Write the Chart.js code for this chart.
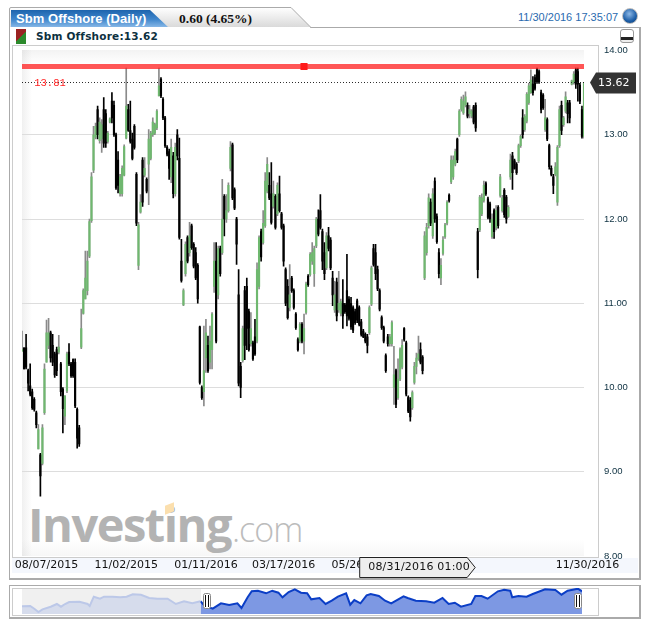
<!DOCTYPE html>
<html>
<head>
<meta charset="utf-8">
<title>Sbm Offshore (Daily)</title>
<script src="https://cdn.jsdelivr.net/npm/chart.js@4"></script>
<style>
html, body { margin: 0; padding: 0; background: #fff; overflow: hidden; }
#page { position: relative; width: 650px; height: 627px; overflow: hidden; }
#page > * { position: absolute; }
#panel { left: 9px; top: 27px; width: 629px; height: 550px; border: 1px solid #aaa; border-width: 1px 2px 2px 1px; background: #fff; }
#tabShape { left: 0; top: 0; }
#tabTitle { left: 16px; top: 10px; color: #fff; font: bold 13px "Liberation Sans"; line-height: 17px; letter-spacing: 0.05px; }
#tabChange { left: 179px; top: 10px; color: #111; font: bold 13.5px "Liberation Serif"; line-height: 17px; }
#stamp { left: 518px; top: 10px; color: #2a6aaf; font: 11px "Liberation Sans"; line-height: 14px; }
#globe { left: 622px; top: 8px; width: 14px; height: 14px; border-radius: 50%; border: 1px solid #bbb; background: radial-gradient(circle at 45% 35%, #8db8e6, #1c5da6 60%, #0f3f78); }
#swatch { left: 16px; top: 29px; width: 10px; height: 15px; background: linear-gradient(135deg, #9a2222 50%, #2c8a2c 50%); }
#legend { left: 36px; top: 29px; color: #0d3040; font: bold 10.5px "DejaVu Sans"; line-height: 15px; letter-spacing: 0.2px; }
#collapse { left: 620px; top: 29px; width: 12px; height: 12px; border: 1px solid #999; border-radius: 3px; background: linear-gradient(#fff 60%, #222 60%, #222 80%, #eee 80%); }
#frame { left: 12px; top: 45px; width: 585px; height: 511px; border: 1px solid #ccc; background: #fff; }
#plotShade { left: 22px; top: 50px; width: 562px; height: 506px;
  background: linear-gradient(to bottom, #f3f3f3, #fff 14px, #fff 490px, #f7f7f7),
              linear-gradient(to right, #f0f0f0, #fff 10px); background-blend-mode: multiply; }
#strip { left: 12px; top: 558px; width: 626px; height: 15px; background: #f4f7fd; }
#logoWord { left: 28px; top: 492px; color: #b3b3b3; font: 700 47px "Open Sans"; letter-spacing: -1.5px; line-height: 64px; }
#logoCom { left: 232px; top: 505px; color: #bcbcbc; font: 300 34px "Open Sans"; letter-spacing: -1px; line-height: 48px; }
#logoDot { left: 165px; top: 504px; width: 9px; height: 9px; background: #fbdfae; transform: skewY(-20deg); }
#navPanel { left: 9px; top: 585px; width: 629px; height: 31px; border: 1px solid #aaa; border-width: 1px 2px 2px 1px; background: #fff; }
#navFrame { left: 12px; top: 588px; width: 585px; height: 26px; border: 1px solid #ccc; background: #fff; }
#navShade { left: 22px; top: 589px; width: 179px; height: 25px; background: #f0f0f0; }
canvas { left: 0; }
</style>
</head>
<body>
<div id="page">
  <div id="panel"></div>
  <svg id="tabShape" width="650" height="30">
    <defs>
      <linearGradient id="tabGrey" x1="0" y1="0" x2="0" y2="1"><stop offset="0" stop-color="#fff"/><stop offset="1" stop-color="#d8d8d8"/></linearGradient>
      <linearGradient id="tabBlue" x1="0" y1="0" x2="0" y2="1"><stop offset="0" stop-color="#1d64ad"/><stop offset="0.55" stop-color="#3f86cc"/><stop offset="1" stop-color="#86b7e6"/></linearGradient>
    </defs>
    <path d="M9.5 28 V9 Q9.5 7.5 11 7.5 H291 L311 27.5" fill="url(#tabGrey)" stroke="#aaa"/>
    <path d="M11 27 V10 H150 L168 27 Z" fill="url(#tabBlue)"/>
    <rect x="10" y="27" width="300" height="2" fill="#fff"/>
  </svg>
  <div id="tabTitle">Sbm Offshore (Daily)</div>
  <div id="tabChange">0.60 (4.65%)</div>
  <div id="stamp">11/30/2016 17:35:07</div>
  <div id="globe"></div>
  <div id="swatch"></div>
  <div id="legend">Sbm Offshore:13.62</div>
  <div id="collapse"></div>
  <div id="frame"></div>
  <div id="plotShade"></div>
  <div id="strip"></div>
  <div id="logoWord">Investing</div>
  <div id="logoCom">.com</div>
  <div id="logoDot"></div>
  <div id="navPanel"></div>
  <div id="navFrame"></div>
  <div id="navShade"></div>
  <canvas id="grafico" width="650" height="627" style="top:0"></canvas>
  <canvas id="navegador" width="650" height="32" style="top:585px"></canvas>
</div>
<script>
// daily prices
const sessionHigh = [
  10.67,10.47,10.63,10.22,10.28,9.98,9.88,9.72,9.56,9.22,
  9.56,10.28,10.8,10.82,10.67,10.63,10.42,10.48,10.62,10.3,
  10.0,9.9,10.42,10.52,10.3,10.34,10.34,9.76,9.55,10.93,
  11.17,11.62,11.62,12.0,12.55,13.1,13.14,13.34,13.2,13.18,
  13.44,13.3,13.04,13.2,13.5,13.4,13.02,12.8,12.53,12.63,
  12.88,13.79,13.36,13.4,13.02,13.12,12.55,11.96,12.29,12.73,
  12.73,12.49,13.06,13.04,13.2,13.14,13.3,13.79,13.68,13.44,
  13.22,12.87,12.83,12.95,12.79,12.9,13.06,12.96,11.76,11.17,
  11.73,11.8,11.96,11.94,11.72,11.66,11.47,10.73,10.02,10.73,
  10.81,10.61,10.73,10.89,11.72,11.72,11.68,11.68,12.47,12.29,
  12.29,12.43,12.92,12.9,12.37,12.02,11.4,10.3,10.73,11.2,
  11.3,10.93,10.89,10.55,10.81,11.48,11.8,11.88,12.1,12.55,
  12.73,12.55,12.67,12.45,12.29,12.43,12.51,12.08,11.94,11.42,
  11.28,11.46,11.32,11.17,10.89,10.59,10.77,10.77,10.87,11.25,
  11.34,11.6,11.72,11.68,12.02,12.11,12.29,11.88,11.72,11.84,
  11.9,11.78,11.38,11.26,11.3,11.38,11.05,11.28,11.0,11.58,
  11.08,11.07,10.97,10.93,11.05,10.97,10.81,10.69,10.65,10.63,
  10.97,11.44,11.7,11.7,11.44,11.17,10.85,10.73,10.4,10.63,
  10.63,10.79,10.49,10.22,10.34,10.47,10.57,10.71,10.55,9.9,
  9.88,9.96,10.3,10.41,10.61,10.53,10.38,11.85,11.95,12.3,
  12.24,12.36,12.49,12.06,11.65,11.53,11.79,11.95,12.22,12.3,
  12.75,12.75,12.83,12.96,13.3,13.45,13.47,13.51,13.38,13.35,
  13.3,13.35,13.38,11.89,12.28,12.3,12.45,12.44,12.26,12.2,
  12.06,12.12,12.16,12.16,12.53,12.28,12.36,12.28,12.16,12.77,
  12.79,12.71,12.67,12.89,13.0,13.3,13.24,13.5,13.61,13.77,
  13.69,13.71,13.79,13.77,13.53,13.49,13.42,13.2,12.89,12.63,
  12.53,12.67,12.87,13.34,13.4,13.22,13.51,13.41,13.41,13.65,
  13.75,13.79,13.79,13.61,13.34,13.61
];
const sessionLow = [
  10.43,10.22,10.22,9.96,9.9,9.74,9.72,9.52,9.27,8.71,
  9.08,9.68,10.3,10.46,10.3,10.26,10.12,10.14,10.4,9.9,
  9.46,9.56,9.94,10.26,10.12,10.12,9.76,9.28,9.3,10.46,
  10.87,11.05,11.1,11.54,11.96,12.55,12.95,12.95,12.9,12.79,
  12.85,12.85,12.9,13.14,13.14,12.98,12.35,12.31,12.27,12.27,
  12.51,12.95,13.04,12.9,12.7,12.83,11.92,11.4,12.07,12.15,
  12.5,12.31,12.17,12.7,12.98,13.0,13.06,13.46,13.44,13.18,
  12.85,12.75,12.47,12.43,12.25,12.27,12.7,11.76,11.25,10.97,
  11.32,11.48,11.56,11.64,11.42,11.28,11.0,10.04,9.86,9.78,
  10.18,10.18,10.22,10.22,11.13,10.53,11.05,11.32,11.58,11.8,
  11.96,12.08,12.57,12.23,12.11,11.46,10.02,9.88,10.3,10.33,
  10.45,10.43,10.49,10.32,10.38,10.53,11.17,11.5,11.7,11.9,
  12.31,12.23,11.94,12.13,11.88,12.04,12.08,11.88,11.44,10.97,
  10.81,10.91,11.13,10.93,10.69,10.43,10.53,10.53,10.4,10.87,
  11.2,11.32,11.46,11.2,11.66,11.8,11.88,11.4,11.28,11.4,
  11.62,11.4,10.97,10.89,10.79,10.89,10.85,10.7,10.88,10.73,
  10.8,10.69,10.65,10.75,10.77,10.73,10.61,10.59,10.53,10.41,
  10.63,10.97,11.44,11.28,11.15,10.91,10.69,10.53,10.18,10.49,
  10.49,10.49,9.8,9.76,9.86,10.08,10.22,10.55,9.9,9.7,
  9.6,9.74,10.04,10.16,10.32,10.28,10.16,11.28,11.57,11.89,
  11.92,11.77,11.96,11.71,11.3,11.22,11.57,11.77,11.93,12.2,
  12.42,12.47,12.63,12.67,12.98,13.28,13.24,13.33,13.2,13.2,
  13.2,13.13,13.04,11.3,11.85,12.04,12.2,12.28,12.0,11.96,
  11.77,11.77,11.87,11.89,12.26,12.08,12.02,11.95,12.02,12.47,
  12.35,12.59,12.53,12.67,12.85,12.96,13.04,13.14,13.36,13.49,
  13.47,13.53,13.61,13.61,13.26,13.3,13.04,12.93,12.59,12.51,
  12.3,12.51,12.16,12.85,13.0,13.1,13.26,13.14,13.14,13.59,
  13.6,13.55,13.4,13.37,12.96,12.96
];
const sessionOpen = [
  10.43,10.47,10.47,10.2,10.02,9.95,9.86,9.7,9.27,9.2,
  9.1,9.7,10.3,10.5,10.65,10.5,10.4,10.45,10.42,10.28,
  9.98,9.66,9.96,10.42,10.28,10.33,10.3,9.74,9.52,10.48,
  10.88,11.05,11.15,11.56,11.98,12.58,12.97,13.3,12.93,12.95,
  13.3,13.25,12.92,13.15,13.4,13.35,13.0,12.7,12.3,12.3,
  12.52,12.96,13.3,13.05,12.95,13.1,12.53,11.45,12.08,12.7,
  12.52,12.47,12.65,12.72,13.0,13.02,13.08,13.46,13.66,13.42,
  13.2,12.85,12.8,12.5,12.75,12.3,13.0,12.72,11.5,10.98,
  11.35,11.78,11.6,11.92,11.7,11.6,11.45,10.72,10.0,9.95,
  10.35,10.5,10.3,10.45,11.2,11.5,11.1,11.65,11.6,12.27,
  12.0,12.1,12.6,12.88,12.35,12.0,11.1,10.25,10.32,11.15,
  11.2,10.9,10.52,10.53,10.6,10.55,11.2,11.85,11.72,11.92,
  12.33,12.4,12.3,12.15,12.27,12.06,12.3,12.06,11.92,11.4,
  11.2,10.95,11.3,11.15,10.87,10.57,10.55,10.75,10.55,10.89,
  11.32,11.34,11.5,11.35,11.68,12.0,12.1,11.85,11.6,11.42,
  11.8,11.75,11.3,10.92,11.25,10.92,10.88,11.0,10.98,11.15,
  11.05,11.0,10.95,10.9,11.03,10.95,10.78,10.67,10.63,10.6,
  10.65,10.99,11.65,11.6,11.4,11.15,10.83,10.71,10.38,10.6,
  10.52,10.52,10.0,10.2,9.88,10.1,10.24,10.7,10.53,9.88,
  9.85,9.76,10.06,10.25,10.34,10.45,10.36,11.3,11.6,11.92,
  12.2,11.8,12.45,12.03,11.6,11.3,11.59,11.79,11.95,12.28,
  12.44,12.5,12.65,12.95,13.0,13.3,13.26,13.35,13.35,13.25,
  13.22,13.33,13.35,11.85,11.87,12.06,12.22,12.42,12.24,12.18,
  11.79,12.1,11.9,12.14,12.28,12.1,12.34,12.26,12.03,12.5,
  12.75,12.69,12.65,12.69,12.87,13.2,13.06,13.16,13.38,13.5,
  13.6,13.68,13.77,13.75,13.5,13.47,13.06,13.18,12.87,12.6,
  12.5,12.53,12.2,12.87,13.35,13.12,13.28,13.38,13.38,13.6,
  13.62,13.77,13.75,13.59,13.3,12.98
];
const sessionClose = [
  10.45,10.22,10.24,10.05,9.92,9.76,9.74,9.56,9.5,8.95,
  9.52,10.22,10.65,10.65,10.35,10.3,10.15,10.2,10.48,9.95,
  9.75,9.9,10.4,10.28,10.14,10.14,9.78,9.4,9.33,10.7,
  11.15,11.3,11.5,11.97,12.5,13.0,13.1,13.0,13.15,13.12,
  12.9,12.9,13.02,13.19,13.2,13.0,12.37,12.4,12.5,12.6,
  12.86,13.34,13.05,12.92,12.72,12.85,11.95,11.93,12.2,12.2,
  12.6,12.33,12.95,13.02,13.15,13.12,13.28,13.58,13.46,13.2,
  12.87,12.77,12.6,12.85,12.3,12.85,12.75,11.78,11.27,11.15,
  11.7,11.5,11.8,11.66,11.44,11.3,11.05,10.06,9.88,10.2,
  10.65,10.2,10.55,10.87,11.5,10.55,11.65,11.35,12.0,12.0,
  12.1,12.4,12.85,12.25,12.13,11.7,10.05,10.0,10.7,10.5,
  10.7,10.45,10.7,10.34,10.4,11.4,11.78,11.55,11.95,12.45,
  12.65,12.25,11.96,12.3,11.9,12.4,12.1,11.9,11.5,11.0,
  10.83,11.1,11.15,10.95,10.71,10.45,10.75,10.55,10.7,11.23,
  11.22,11.58,11.6,11.65,12.0,11.82,11.9,11.5,11.35,11.8,
  11.65,11.42,11.1,11.1,10.85,11.0,11.02,10.85,10.9,10.85,
  10.82,10.72,10.68,10.77,10.8,10.75,10.63,10.6,10.55,10.5,
  10.95,11.42,11.46,11.35,11.17,10.93,10.71,10.55,10.2,10.52,
  10.6,10.77,10.15,9.8,10.1,10.45,10.5,10.57,9.92,9.72,
  9.65,9.94,10.25,10.35,10.4,10.3,10.2,11.8,11.9,12.25,
  11.95,12.3,12.0,11.73,11.35,11.45,11.75,11.93,12.2,12.22,
  12.7,12.7,12.8,12.7,13.28,13.42,13.4,13.45,13.22,13.3,
  13.28,13.15,13.08,11.4,12.26,12.25,12.4,12.3,12.02,12.0,
  12.0,11.85,12.1,11.92,12.5,12.25,12.05,12.0,12.14,12.7,
  12.55,12.6,12.55,12.87,12.98,13.0,13.22,13.48,13.58,13.65,
  13.5,13.55,13.63,13.63,13.3,13.32,13.2,12.95,12.62,12.53,
  12.4,12.62,12.85,13.3,13.05,13.2,13.45,13.25,13.2,13.64,
  13.72,13.6,13.6,13.4,12.98,13.62
];
const priceTicks = [14, 13, 12, 11, 10, 9, 8];
const xTickSessions = [12, 51, 90, 128, 167, 275];
const xTickDates = ['08/07/2015', '11/02/2015', '01/11/2016', '03/17/2016', '05/26/2016', '  11/30/2016'];
const topLevel = 13.81;
const topLevelMarkerSession = 138;
const lastPrice = 13.62;
const cursorSession = 165;
const cursorDate = '08/31/2016 01:00';

// navigator strip, history on the left and selected range on the right
const navHistoryDays = [0,4,6,8,10,14,17,19,21,23,28,32,33,35,38,40,44,48,51,54,58,62,66,71,75,79,83,87];
const navHistoryLevels = [7.7,8,5.3,2,4.7,7.3,10,7.3,10,12,12.3,10,8,17.3,15.3,17.3,17.3,16.7,17.3,19.7,19.3,16,15.3,15.3,10,12.7,10.7,12.7];
const navRangeDays = [87,89,93,97,101,105,107,110,112,115,119,122,125,127,130,133,136,139,141,145,148,151,154,158,160,162,165,168,170,174,177,180,186,188,192,197,201,205,208,211,214,219,221,224,227,232,235,238,239,242,246,249,255,260,263,266,271,273];
const navRangeLevels = [12.7,8.3,5.3,10.7,9,10.7,6,16.7,22.7,23.3,20.7,23.3,21.3,16.7,22,24.7,21.3,20.7,14.7,16,10,13.3,17.3,20.7,9.3,14,10.7,18.7,20,18,13.3,10.7,17.7,16,13.3,12.7,11.3,16,10,11.3,7.3,10,18,18,15.3,22.7,24.3,23.3,16.7,18,17.3,20,24.7,24,19.3,23.3,25.3,22.7];
const navHandleDays = [90, 271];

const arrayVelas = sessionHigh.map((h, i) => i);
const esSubida = i => sessionClose[i] >= sessionOpen[i];

const etiquetasPlugin = {
    id: 'etiquetas',
    afterDraw(chart) {
        const { ctx, scales } = chart;
        const yUltimo = scales.y.getPixelForValue(lastPrice);
        ctx.save();

        // red level text sitting on the dotted line
        ctx.font = '10.5px "Liberation Mono"';
        ctx.fillStyle = '#ff2020';
        ctx.textAlign = 'left';
        ctx.textBaseline = 'middle';
        ctx.fillText(topLevel.toFixed(2), scales.x.getPixelForValue(6), yUltimo + 0.5);

        // last price tag
        ctx.fillStyle = '#333333';
        ctx.beginPath();
        ctx.moveTo(590, yUltimo);
        ctx.lineTo(596, yUltimo - 10);
        ctx.lineTo(636, yUltimo - 10);
        ctx.lineTo(636, yUltimo + 11);
        ctx.lineTo(596, yUltimo + 11);
        ctx.closePath();
        ctx.fill();
        ctx.fillStyle = '#ffffff';
        ctx.font = '11px "DejaVu Sans"';
        ctx.fillText(lastPrice.toFixed(2), 598, yUltimo + 1);

        // cursor date tag on the time axis
        const xCursor = scales.x.getPixelForValue(cursorSession);
        ctx.fillStyle = '#eeeeee';
        ctx.strokeStyle = '#222222';
        ctx.lineWidth = 1;
        ctx.beginPath();
        ctx.moveTo(xCursor + 0.5, 557.5);
        ctx.lineTo(xCursor + 108, 557.5);
        ctx.lineTo(xCursor + 116, 567.5);
        ctx.lineTo(xCursor + 108, 577.5);
        ctx.lineTo(xCursor + 0.5, 577.5);
        ctx.closePath();
        ctx.fill();
        ctx.stroke();
        ctx.fillStyle = '#111111';
        ctx.letterSpacing = '0.2px';
        ctx.fillText(cursorDate, xCursor + 9, 567.5);
        ctx.restore();
    }
};

new Chart(document.getElementById('grafico'), {
    type: 'bar',
    plugins: [etiquetasPlugin],
    data: {
        labels: arrayVelas,
        datasets: [
            {
                label: 'Top',
                type: 'line',
                data: arrayVelas.map(() => topLevel),
                borderColor: 'rgba(255, 30, 30, 0.75)',
                borderWidth: 5,
                pointStyle: 'rect',
                pointBackgroundColor: '#ff1a1a',
                pointBorderWidth: 0,
                pointRadius: c => (c.dataIndex === topLevelMarkerSession ? 5 : 0),
                order: 0
            },
            {
                label: 'Last',
                type: 'line',
                data: arrayVelas.map(() => lastPrice),
                borderColor: '#222222',
                borderWidth: 1,
                borderDash: [1, 2],
                pointRadius: 0,
                order: 1
            },
            {
                label: 'Body',
                data: arrayVelas.map(i => [sessionOpen[i], sessionClose[i]]),
                backgroundColor: arrayVelas.map(i => (esSubida(i) ? '#6fb86f' : '#000000')),
                barThickness: 1.5,
                grouped: false,
                order: 2
            },
            {
                label: 'Wick',
                data: arrayVelas.map(i => [sessionLow[i], sessionHigh[i]]),
                backgroundColor: arrayVelas.map(i => (esSubida(i) ? '#8a8a8a' : '#000000')),
                barThickness: 1,
                grouped: false,
                order: 3
            }
        ]
    },
    options: {
        responsive: false,
        animation: false,
        events: [],
        layout: { autoPadding: false, padding: { left: 22, top: 50.5, right: 0, bottom: 0 } },
        plugins: { legend: { display: false }, tooltip: { enabled: false } },
        scales: {
            x: {
                offset: false,
                grid: { display: false, drawTicks: false },
                border: { display: false },
                afterFit: s => { s.height = 71; },
                ticks: {
                    autoSkip: false,
                    maxRotation: 0,
                    padding: 3,
                    color: '#111111',
                    font: { family: 'DejaVu Sans', size: 11 },
                    callback: (v, i) => {
                        const pos = xTickSessions.indexOf(i);
                        return pos >= 0 ? xTickDates[pos] : '';
                    }
                }
            },
            y: {
                position: 'right',
                min: 8,
                max: 14,
                afterFit: s => { s.width = 66; },
                afterBuildTicks: s => { s.ticks = priceTicks.map(v => ({ value: v })); },
                grid: {
                    drawTicks: false,
                    color: c => (c.tick.value === 14 || c.tick.value === 8 ? 'transparent' : '#dddddd')
                },
                border: { display: false },
                ticks: {
                    padding: 20,
                    color: '#0d3040',
                    font: { family: 'Liberation Sans', size: 9.5 },
                    callback: v => v.toFixed(2)
                }
            }
        }
    }
});

const asasPlugin = {
    id: 'asas',
    afterDraw(chart) {
        const { ctx, scales } = chart;
        ctx.save();
        navHandleDays.forEach(d => {
            const x = Math.round(scales.x.getPixelForValue(d));
            ctx.fillStyle = '#ffffff';
            ctx.strokeStyle = '#888888';
            ctx.lineWidth = 1;
            ctx.beginPath();
            ctx.roundRect(x - 3.5, 8.5, 7, 15, 2);
            ctx.fill();
            ctx.stroke();
            ctx.fillStyle = '#111111';
            ctx.fillRect(x - 2, 10, 1, 12);
            ctx.fillRect(x + 1, 10, 1, 12);
        });
        ctx.restore();
    }
};

new Chart(document.getElementById('navegador'), {
    type: 'line',
    plugins: [asasPlugin],
    data: {
        datasets: [
            {
                data: navHistoryDays.map((d, i) => ({ x: d, y: navHistoryLevels[i] })),
                borderColor: '#bcc8e8',
                backgroundColor: '#d6dcec',
                borderWidth: 2,
                fill: 'origin',
                pointRadius: 0
            },
            {
                data: navRangeDays.map((d, i) => ({ x: d, y: navRangeLevels[i] })),
                borderColor: '#0b3ec6',
                backgroundColor: '#7d98e3',
                borderWidth: 2,
                fill: 'origin',
                pointRadius: 0
            }
        ]
    },
    options: {
        responsive: false,
        animation: false,
        events: [],
        layout: { autoPadding: false, padding: { left: 22, top: 3, right: 68, bottom: 3 } },
        plugins: { legend: { display: false }, tooltip: { enabled: false } },
        scales: {
            x: { type: 'linear', display: false, min: 0, max: 273 },
            y: { display: false, min: 0, max: 26 }
        }
    }
});
</script>
</body>
</html>
